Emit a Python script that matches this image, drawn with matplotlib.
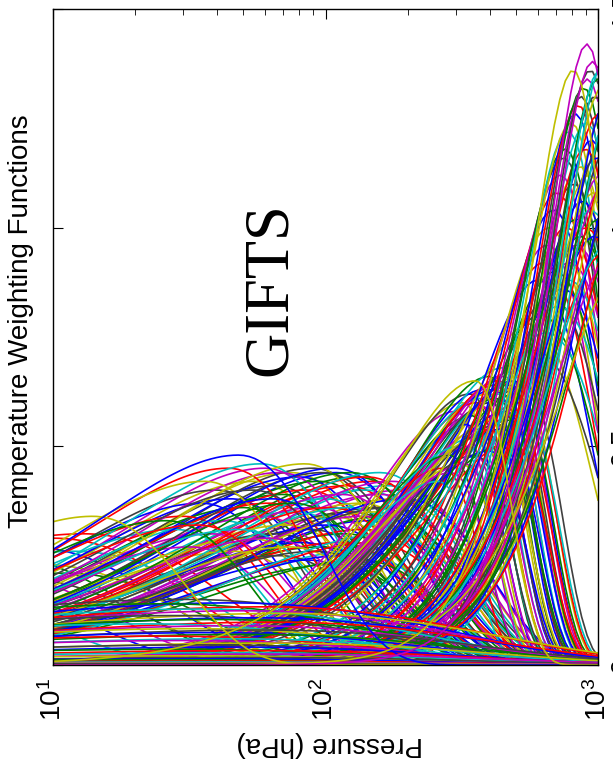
import numpy as np
import matplotlib
matplotlib.use("Agg")
import matplotlib.pyplot as plt

# peak pressure (hPa) and peak value of each weighting function
# near-surface channels
surface_p = [560, 580, 600, 615, 630, 645, 650,
             660, 670, 685, 695, 705, 715, 725, 735, 745, 740,
             755, 765, 775, 785, 795, 815, 825, 835, 845, 780, 830,
             855, 865, 875, 885, 895, 905, 915, 925, 935, 945, 860, 900, 940,
             955, 965, 975, 985, 995, 1005, 1015, 1025, 1035, 1045, 970, 1010, 1050,
             1055, 1065, 1075, 1085, 1095, 1110, 1130, 1150, 1170, 1190, 1210, 1240,
             1270, 1300, 1080, 1140, 1220]
surface_h = [0.78, 0.72, 0.88, 0.80, 0.92, 0.76, 0.96,
             1.00, 0.84, 1.04, 0.90, 1.08, 0.82, 1.12, 0.94, 1.16, 0.86,
             1.18, 1.00, 1.22, 0.92, 1.24, 1.10, 1.26, 1.02, 1.28, 0.88, 0.96,
             1.14, 1.30, 1.06, 1.32, 1.18, 1.24, 1.34, 1.12, 1.36, 1.20, 0.98, 1.00, 1.04,
             1.38, 1.08, 1.30, 1.16, 1.34, 1.26, 1.36, 1.12, 1.32, 1.20, 0.98, 1.02, 0.94,
             1.38, 1.10, 1.28, 1.18, 1.30, 1.24, 1.14, 1.30, 1.06, 1.20, 1.10, 1.16,
             1.02, 1.08, 0.96, 0.94, 0.90]

# mid-troposphere channels
mid_p = [300, 320, 340, 380, 400, 420, 450, 480, 510, 540,
         330, 345, 360, 370, 385, 395, 405, 415, 425, 435,
         440, 455, 465, 470, 490, 500, 520, 350, 375, 410,
         430, 460, 285, 270, 310, 335, 365, 390, 445, 475,
         495, 530, 290, 315, 355, 400, 440, 485, 260, 325]
mid_h = [0.58, 0.60, 0.62, 0.63, 0.66, 0.64, 0.68, 0.67, 0.66, 0.64,
         0.55, 0.57, 0.60, 0.61, 0.59, 0.62, 0.60, 0.63, 0.61, 0.65,
         0.62, 0.66, 0.63, 0.64, 0.65, 0.62, 0.60, 0.52, 0.54, 0.56,
         0.55, 0.58, 0.48, 0.45, 0.50, 0.50, 0.52, 0.53, 0.54, 0.56,
         0.57, 0.58, 0.44, 0.46, 0.48, 0.49, 0.50, 0.51, 0.42, 0.46]

# upper-troposphere / lower-stratosphere channels
upper_p = [60, 75, 90, 110, 130, 150, 170, 190,
           55, 65, 80, 95, 120, 140, 160, 180,
           40, 45, 70, 85, 100, 115, 135, 155,
           35, 50, 62, 78, 92, 105, 125, 145, 165,
           30, 42, 58, 72, 88, 102, 118, 138,
           28, 38, 52, 66, 82, 96, 112, 128,
           32, 46, 68, 86, 108,
           44, 58, 68, 84, 98, 108, 124, 142, 158, 176,
           36, 54, 64, 76, 104, 122, 136, 152, 172, 196,
           26, 34, 48, 62, 74, 92, 116, 134, 148, 168]
upper_h = [0.45, 0.44, 0.45, 0.44, 0.43, 0.42, 0.41, 0.40,
           0.42, 0.41, 0.43, 0.42, 0.41, 0.40, 0.39, 0.38,
           0.40, 0.38, 0.39, 0.40, 0.38, 0.39, 0.37, 0.36,
           0.37, 0.36, 0.37, 0.35, 0.36, 0.34, 0.35, 0.33, 0.34,
           0.34, 0.33, 0.34, 0.32, 0.31, 0.32, 0.30, 0.31,
           0.31, 0.30, 0.29, 0.30, 0.28, 0.27, 0.28, 0.26,
           0.27, 0.26, 0.25, 0.24, 0.23,
           0.45, 0.46, 0.44, 0.46, 0.44, 0.45, 0.44, 0.43, 0.44, 0.42,
           0.42, 0.40, 0.38, 0.37, 0.36, 0.36, 0.34, 0.35, 0.36, 0.38,
           0.33, 0.32, 0.31, 0.29, 0.27, 0.26, 0.25, 0.24, 0.28, 0.30]

# channels peaking at the top of the plot
strato_p = [8, 6, 10, 12, 5, 9, 7, 4, 11, 13, 3]
strato_h = [0.27, 0.25, 0.29, 0.26, 0.22, 0.23, 0.20, 0.19, 0.21, 0.30, 0.17]

# weak, broad channels along the bottom
low_p = [30, 45, 25, 60, 35, 50, 70, 28, 55, 40, 65, 22, 48, 33, 58, 38, 52, 26,
         44, 31, 62, 36, 47, 29, 54, 42, 66, 34, 57, 39, 24, 49, 37, 61, 43, 27]
low_h = [0.15, 0.142, 0.14, 0.133, 0.128, 0.124, 0.118, 0.113, 0.108, 0.104, 0.098, 0.094,
         0.09, 0.083, 0.08, 0.074, 0.07, 0.066, 0.06, 0.056, 0.05, 0.046, 0.041, 0.036,
         0.033, 0.028, 0.025, 0.021, 0.017, 0.014, 0.012, 0.009, 0.007, 0.005, 0.004, 0.003]

# curves that stand out on top: peak pressure, peak value, colour
standout_p = [14, 48, 355, 810, 910]
standout_h = [0.34, 0.48, 0.65, 1.36, 1.42]
standout_c = [(0.75, 0.75, 0), (0, 0, 1), (0.75, 0.75, 0), (0.75, 0.75, 0), (0.75, 0, 0.75)]

pressure_ticks = [10, 100, 1000]
pressure_labels = [r"$\mathregular{10^{1}}$", r"$\mathregular{10^{2}}$", r"$\mathregular{10^{3}}$"]
wf_ticks = [0, 0.5, 1, 1.5]
wf_labels = ["0", "0.5", "1", "1.5"]

# old matlab colour order
colors = [(0, 0, 1), (0, 0.5, 0), (1, 0, 0), (0, 0.75, 0.75),
          (0.75, 0, 0.75), (0.75, 0.75, 0), (0.25, 0.25, 0.25)]

plt.rcParams["font.family"] = ["Liberation Sans", "DejaVu Sans"]
plt.rcParams["mathtext.fontset"] = "custom"
plt.rcParams["mathtext.rm"] = "Liberation Sans"

fig = plt.figure(figsize=(6.13, 7.61), dpi=100)
ax = fig.add_axes([53 / 613, 96 / 761, 545 / 613, 656 / 761])

# pressure levels for drawing
p = np.logspace(1, 3, 101)


def weighting(p0, h, kl, kr):
    # derivative of transmittance exp(-(p/p0)^k), scaled to peak h at p0,
    # kl above the peak (lower pressure), kr below it
    k = np.where(p < p0, kl, kr)
    x = (p / p0) ** k
    return h * x * np.exp(1 - x)


curves = []
for p0, h in zip(strato_p, strato_h):
    curves.append(weighting(p0, h, 0.6, 0.8))
for p0, h in zip(upper_p, upper_h):
    curves.append(weighting(p0, h, 0.85, 1.3))
for p0, h in zip(mid_p, mid_h):
    curves.append(weighting(p0, h, 1.5, 3.0))
for p0, h in zip(surface_p, surface_h):
    curves.append(weighting(p0, h, h / 0.45, h / 0.45))
for p0, h in zip(low_p, low_h):
    curves.append(weighting(p0, h, 0.4, 0.5))

for i, w in enumerate(curves):
    ax.plot(p, w, color=colors[i % len(colors)], lw=1.2)

standout_k = [(0.85, 1.2), (0.85, 1.3), (1.5, 3.0), (3.0, 3.0), (3.2, 3.2)]
for p0, h, (kl, kr), c in zip(standout_p, standout_h, standout_k, standout_c):
    ax.plot(p, weighting(p0, h, kl, kr), color=c, lw=1.2)

ax.set_xscale("log")
ax.set_xlim(10, 1000)
ax.set_ylim(0, 1.5)
ax.set_xticks(pressure_ticks)
ax.set_xticklabels(pressure_labels)
ax.set_yticks(wf_ticks)
ax.set_yticklabels(wf_labels)

ax.tick_params(axis="x", which="both", direction="in", top=True, bottom=True,
               labelrotation=90, labelsize=20, pad=9)
ax.tick_params(axis="x", which="major", length=7)
ax.tick_params(axis="x", which="minor", length=4)
ax.tick_params(axis="y", direction="in", left=True, right=True, labelleft=False,
               labelright=True, labelrotation=90, labelsize=20, pad=8.5, length=7)
for t in ax.yaxis.get_major_ticks():
    t.label2.set_verticalalignment("center")
for s in ax.spines.values():
    s.set_linewidth(1.0)
    s.set_zorder(5)

fig.text(21 / 613, 1 - 321 / 761, "Temperature Weighting Functions", rotation=90,
         ha="center", va="center", fontsize=20)
fig.text(330 / 613, 1 - 744 / 761, "Pressure (hPa)", rotation=180,
         ha="center", va="center", fontsize=20)
fig.text(271 / 613, 1 - 289 / 761, "GIFTS", rotation=90, ha="center", va="center",
         fontsize=45, family="Liberation Serif")

fig.savefig("out.png", dpi=100)
